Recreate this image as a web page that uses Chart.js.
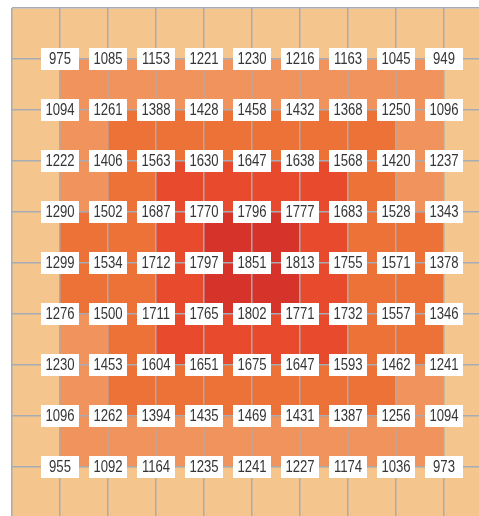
<!DOCTYPE html>
<html>
<head>
<meta charset="utf-8">
<script src="https://cdn.jsdelivr.net/npm/chart.js@4.4.1/dist/chart.umd.min.js"></script>
<style>
  html, body { margin: 0; padding: 0; background: #fff; overflow: hidden; }
  #wrap { width: 500px; height: 530px; }
</style>
</head>
<body>
<div id="wrap"><canvas id="heat" width="500" height="530"></canvas></div>
<script>
// grid point positions (columns / rows)
var columns = [1, 2, 3, 4, 5, 6, 7, 8, 9];
var rows = [1, 2, 3, 4, 5, 6, 7, 8, 9];

var row1 = [975, 1085, 1153, 1221, 1230, 1216, 1163, 1045, 949];
var row2 = [1094, 1261, 1388, 1428, 1458, 1432, 1368, 1250, 1096];
var row3 = [1222, 1406, 1563, 1630, 1647, 1638, 1568, 1420, 1237];
var row4 = [1290, 1502, 1687, 1770, 1796, 1777, 1683, 1528, 1343];
var row5 = [1299, 1534, 1712, 1797, 1851, 1813, 1755, 1571, 1378];
var row6 = [1276, 1500, 1711, 1765, 1802, 1771, 1732, 1557, 1346];
var row7 = [1230, 1453, 1604, 1651, 1675, 1647, 1593, 1462, 1241];
var row8 = [1096, 1262, 1394, 1435, 1469, 1431, 1387, 1256, 1094];
var row9 = [955, 1092, 1164, 1235, 1241, 1227, 1174, 1036, 973];

var grid = [row1, row2, row3, row4, row5, row6, row7, row8, row9];

// colour bands for the cells between grid points
var levels = [1400, 1660, 1800];
var outerColor = '#f4c58d';
var bandColors = ['#f0935c', '#ec7237', '#e84a2e', '#d6332a'];

function cellColor(i, j) {
    // cell i spans columns i..i+1, cell j spans rows j..j+1
    if (i < 1 || j < 1 || i > columns.length - 1 || j > rows.length - 1) return outerColor;
    var avg = (grid[j - 1][i - 1] + grid[j - 1][i] + grid[j][i - 1] + grid[j][i]) / 4;
    var k = 0;
    while (k < levels.length && avg >= levels[k]) k++;
    return bandColors[k];
}

var datasets = [];
for (var j = 0; j <= rows.length; j++) {
    var cells = [], colors = [];
    for (var i = 0; i <= columns.length; i++) {
        cells.push({ x: i + 0.5, y: [j, j + 1] });
        colors.push(cellColor(i, j));
    }
    datasets.push({
        type: 'bar',
        data: cells,
        backgroundColor: colors,
        borderWidth: 0,
        grouped: false,
        barPercentage: 1,
        categoryPercentage: 1
    });
}

var points = [];
for (var r = 0; r < rows.length; r++) {
    for (var c = 0; c < columns.length; c++) {
        points.push({ x: columns[c], y: rows[r], v: grid[r][c] });
    }
}
datasets.push({
    type: 'scatter',
    data: points,
    pointRadius: 0,
    pointHoverRadius: 0
});
var labelIndex = datasets.length - 1;

// white value boxes with a narrow-looking font
var valueLabels = {
    id: 'valueLabels',
    afterDraw: function(chart) {
        var ctx = chart.ctx;
        var meta = chart.getDatasetMeta(labelIndex);
        var squeeze = 0.82;
        meta.data.forEach(function(pt, n) {
            var w = 38, h = 22;
            ctx.save();
            ctx.fillStyle = '#ffffff';
            ctx.fillRect(pt.x - w / 2, pt.y - h / 2, w, h);
            ctx.translate(pt.x, pt.y + 1);
            ctx.scale(squeeze, 1);
            ctx.font = '16px "Liberation Sans", Arial, sans-serif';
            ctx.textAlign = 'center';
            ctx.textBaseline = 'middle';
            ctx.fillStyle = '#353535';
            ctx.fillText(String(points[n].v), 0, 0);
            ctx.restore();
        });
    }
};

function gridLine() {
    return { color: '#a6abb4', lineWidth: 1.5, drawTicks: false, offset: false, z: 1 };
}

new Chart(document.getElementById('heat').getContext('2d'), {
    type: 'bar',
    data: { datasets: datasets },
    options: {
        responsive: false,
        animation: false,
        events: [],
        layout: { padding: { left: 12, top: 8, right: 8, bottom: 12 } },
        plugins: { legend: { display: false }, tooltip: { enabled: false } },
        scales: {
            x: {
                type: 'linear', min: 0, max: 10, offset: false,
                ticks: { display: false, stepSize: 1 },
                grid: gridLine(),
                border: { display: false }
            },
            y: {
                type: 'linear', min: 0, max: 10, reverse: true,
                ticks: { display: false, stepSize: 1 },
                grid: gridLine(),
                border: { display: false }
            }
        }
    },
    plugins: [valueLabels]
});
</script>
</body>
</html>
